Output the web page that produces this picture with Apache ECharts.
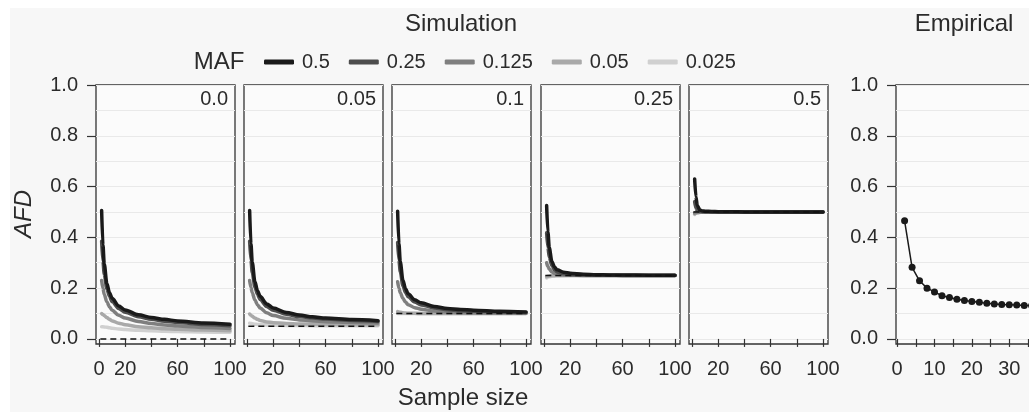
<!DOCTYPE html>
<html>
<head>
<meta charset="utf-8">
<script src="https://cdn.jsdelivr.net/npm/echarts@6/dist/echarts.min.js"></script>
<style>
  html, body { margin: 0; padding: 0; background: #fff; }
  #main { width: 1029px; height: 412px; }
</style>
</head>
<body>
<div id="main"></div>
<script>
// sample sizes used for the simulation curves
let sampleSizes = [2, 3, 4, 6, 8, 10, 15, 20, 30, 40, 50, 60, 80, 100];

// MAF levels (legend) and true differences (panels)
let mafLevels = ['0.5', '0.25', '0.125', '0.05', '0.025'];
let trueDiffs = [0, 0.05, 0.1, 0.25, 0.5];
let panelLabels = ['0.0', '0.05', '0.1', '0.25', '0.5'];

// panel 0.0
let p0_m05   = [0.506, 0.37, 0.295, 0.218, 0.182, 0.16, 0.13, 0.114, 0.095, 0.084, 0.077, 0.071, 0.063, 0.058];
let p0_m025  = [0.385, 0.305, 0.255, 0.197, 0.167, 0.147, 0.12, 0.105, 0.087, 0.077, 0.07, 0.065, 0.057, 0.052];
let p0_m0125 = [0.23, 0.2, 0.176, 0.146, 0.127, 0.113, 0.093, 0.082, 0.069, 0.061, 0.055, 0.051, 0.045, 0.041];
let p0_m005  = [0.1, 0.096, 0.092, 0.084, 0.077, 0.071, 0.062, 0.056, 0.048, 0.044, 0.04, 0.038, 0.035, 0.032];
let p0_m0025 = [0.048, 0.048, 0.047, 0.046, 0.044, 0.042, 0.039, 0.037, 0.034, 0.032, 0.03, 0.029, 0.027, 0.026];

// panel 0.05
let p1_m05   = [0.506, 0.375, 0.302, 0.226, 0.19, 0.168, 0.138, 0.122, 0.104, 0.094, 0.087, 0.082, 0.076, 0.072];
let p1_m025  = [0.385, 0.31, 0.262, 0.205, 0.175, 0.155, 0.128, 0.113, 0.097, 0.088, 0.082, 0.078, 0.073, 0.069];
let p1_m0125 = [0.23, 0.203, 0.182, 0.153, 0.135, 0.122, 0.103, 0.092, 0.081, 0.075, 0.071, 0.068, 0.065, 0.063];
let p1_m005  = [0.098, 0.093, 0.089, 0.082, 0.077, 0.073, 0.067, 0.064, 0.061, 0.059, 0.058, 0.057, 0.056, 0.056];
let p1_m0025 = [0.062, 0.061, 0.06, 0.058, 0.057, 0.056, 0.055, 0.054, 0.053, 0.053, 0.052, 0.052, 0.052, 0.052];

// panel 0.1
let p2_m05   = [0.503, 0.375, 0.305, 0.232, 0.198, 0.178, 0.154, 0.142, 0.128, 0.12, 0.116, 0.113, 0.109, 0.106];
let p2_m025  = [0.38, 0.31, 0.265, 0.21, 0.183, 0.166, 0.145, 0.134, 0.122, 0.115, 0.111, 0.109, 0.106, 0.104];
let p2_m0125 = [0.225, 0.2, 0.182, 0.16, 0.145, 0.135, 0.123, 0.117, 0.11, 0.106, 0.104, 0.103, 0.102, 0.101];
let p2_m005  = [0.108, 0.106, 0.105, 0.103, 0.102, 0.101, 0.101, 0.1, 0.1, 0.1, 0.1, 0.1, 0.1, 0.1];
let p2_m0025 = [0.1, 0.1, 0.1, 0.1, 0.1, 0.1, 0.1, 0.1, 0.1, 0.1, 0.1, 0.1, 0.1, 0.1];

// panel 0.25
let p3_m05   = [0.525, 0.42, 0.36, 0.305, 0.283, 0.272, 0.263, 0.259, 0.255, 0.253, 0.252, 0.252, 0.251, 0.251];
let p3_m025  = [0.418, 0.36, 0.322, 0.288, 0.272, 0.264, 0.257, 0.254, 0.252, 0.251, 0.251, 0.25, 0.25, 0.25];
let p3_m0125 = [0.3, 0.285, 0.275, 0.264, 0.258, 0.255, 0.252, 0.251, 0.25, 0.25, 0.25, 0.25, 0.25, 0.25];
let p3_m005  = [0.245, 0.247, 0.248, 0.249, 0.249, 0.25, 0.25, 0.25, 0.25, 0.25, 0.25, 0.25, 0.25, 0.25];
let p3_m0025 = [0.24, 0.243, 0.245, 0.247, 0.248, 0.249, 0.249, 0.25, 0.25, 0.25, 0.25, 0.25, 0.25, 0.25];

// panel 0.5
let p4_m05   = [0.63, 0.56, 0.525, 0.508, 0.504, 0.503, 0.502, 0.501, 0.501, 0.5, 0.5, 0.5, 0.5, 0.5];
let p4_m025  = [0.54, 0.515, 0.506, 0.502, 0.501, 0.5, 0.5, 0.5, 0.5, 0.5, 0.5, 0.5, 0.5, 0.5];
let p4_m0125 = [0.496, 0.498, 0.499, 0.5, 0.5, 0.5, 0.5, 0.5, 0.5, 0.5, 0.5, 0.5, 0.5, 0.5];
let p4_m005  = [0.492, 0.495, 0.497, 0.499, 0.5, 0.5, 0.5, 0.5, 0.5, 0.5, 0.5, 0.5, 0.5, 0.5];
let p4_m0025 = [0.49, 0.494, 0.496, 0.498, 0.499, 0.5, 0.5, 0.5, 0.5, 0.5, 0.5, 0.5, 0.5, 0.5];

// empirical panel
let empSizes  = [2, 4, 6, 8, 10, 12, 14, 16, 18, 20, 22, 24, 26, 28, 30, 32, 34, 36, 38, 40];
let empValues = [0.465, 0.282, 0.229, 0.2, 0.185, 0.17, 0.163, 0.156, 0.151, 0.147, 0.144, 0.14, 0.138, 0.136, 0.135, 0.134, 0.132, 0.131, 0.13, 0.129];

// tick labels
let yTicks = [0, 0.2, 0.4, 0.6, 0.8, 1.0];
let yGrid = [0, 0.1, 0.2, 0.3, 0.4, 0.5, 0.6, 0.7, 0.8, 0.9, 1.0];
let simXTicks = [0, 20, 40, 60, 80, 100];
let simXLabelsFirst = [0, 20, 60, 100];
let simXLabels = [20, 60, 100];
let empXTicks = [0, 5, 10, 15, 20, 25, 30, 35, 40, 45, 50];
let empXLabels = [0, 10, 20, 30, 40, 50];

let panelData = [
  [p0_m05, p0_m025, p0_m0125, p0_m005, p0_m0025],
  [p1_m05, p1_m025, p1_m0125, p1_m005, p1_m0025],
  [p2_m05, p2_m025, p2_m0125, p2_m005, p2_m0025],
  [p3_m05, p3_m025, p3_m0125, p3_m005, p3_m0025],
  [p4_m05, p4_m025, p4_m0125, p4_m005, p4_m0025]
];

let mafColors = ['#1a1a1a', '#4d4d4d', '#7f7f7f', '#a9a9a9', '#d0d0d0'];
let panelLeft = [96, 244, 392, 541, 689];
let panelWidth = 139;
let panelTop = 85;
let panelHeight = 259;
let textColor = '#2b2b2b';
let fontFamily = '"Liberation Sans", Arial, sans-serif';

let grids = [];
let xAxes = [];
let yAxes = [];
let series = [];
let graphics = [];

function gridBox(left, width) {
  return {
    left: left,
    top: panelTop,
    width: width,
    height: panelHeight,
    outerBoundsMode: 'none',
    containLabel: false,
    show: true,
    backgroundColor: '#fbfbfb',
    borderColor: '#333',
    borderWidth: 1.3
  };
}

function xAxisFor(idx, min, max, ticks, labels) {
  return {
    type: 'value',
    gridIndex: idx,
    position: 'bottom',
    min: min,
    max: max,
    axisLine: { show: false },
    splitLine: { show: false },
    axisTick: {
      show: true,
      length: 8,
      customValues: ticks,
      lineStyle: { color: '#333', width: 1.2 }
    },
    axisLabel: {
      show: true,
      customValues: labels,
      margin: 15,
      color: textColor,
      fontSize: 20,
      fontFamily: fontFamily
    }
  };
}

// y axis that only draws the light gridlines
function yGridAxis(idx) {
  return {
    type: 'value',
    gridIndex: idx,
    position: 'left',
    min: -0.02,
    max: 1,
    axisLine: { show: false },
    axisLabel: { show: false },
    axisTick: { show: false, customValues: yGrid },
    splitLine: { show: true, lineStyle: { color: '#e9e9e9', width: 1.2 } }
  };
}

// y axis with ticks and labels (first and empirical panel)
function yLabelAxis(idx) {
  return {
    type: 'value',
    gridIndex: idx,
    position: 'left',
    offset: 0,
    min: -0.02,
    max: 1,
    axisLine: { show: false },
    splitLine: { show: false },
    axisTick: {
      show: true,
      length: 9,
      customValues: yTicks,
      lineStyle: { color: '#333', width: 1.2 }
    },
    axisLabel: {
      show: true,
      customValues: yTicks,
      margin: 18,
      color: textColor,
      fontSize: 20,
      fontFamily: fontFamily,
      formatter: function (v) { return v.toFixed(1); }
    }
  };
}

for (let p = 0; p < 5; p++) {
  grids.push(gridBox(panelLeft[p], panelWidth));
  xAxes.push(xAxisFor(p, -2.3, 103.8, simXTicks, p === 0 ? simXLabelsFirst : simXLabels));
  yAxes.push(yGridAxis(p));

  // lightest first so the black curve sits on top
  for (let m = mafLevels.length - 1; m >= 0; m--) {
    let vals = panelData[p][m];
    series.push({
      name: mafLevels[m],
      type: 'line',
      xAxisIndex: p,
      yAxisIndex: p,
      data: sampleSizes.map((n, i) => [n, vals[i]]),
      showSymbol: false,
      smooth: 0.3,
      smoothMonotone: 'x',
      color: mafColors[m],
      lineStyle: { width: 3.5, color: mafColors[m], cap: 'round' },
      z: 2
    });
  }
  series.push({
    name: 'true',
    type: 'line',
    xAxisIndex: p,
    yAxisIndex: p,
    data: [[1, trueDiffs[p]], [100, trueDiffs[p]]],
    showSymbol: false,
    lineStyle: { width: 1.5, color: '#111', type: [6, 4] },
    z: 3
  });

  graphics.push({
    type: 'text',
    x: panelLeft[p] + panelWidth - 7,
    y: 99,
    style: {
      text: panelLabels[p],
      fill: textColor,
      font: '20px ' + fontFamily,
      align: 'right',
      verticalAlign: 'middle'
    }
  });
}

// empirical panel
grids.push(gridBox(896, 188));
xAxes.push(xAxisFor(5, -0.3, 50, empXTicks, empXLabels));
yAxes.push(yGridAxis(5));
yAxes.push(yLabelAxis(0));
yAxes.push(yLabelAxis(5));

series.push({
  name: 'empirical',
  type: 'line',
  xAxisIndex: 5,
  yAxisIndex: 5,
  data: empSizes.map((n, i) => [n, empValues[i]]),
  symbol: 'circle',
  symbolSize: 7,
  color: '#1a1a1a',
  lineStyle: { width: 1.5, color: '#1a1a1a' },
  z: 3
});

// white frame on top / left edge of the picture
graphics.push({ type: 'rect', shape: { x: 0, y: 0, width: 1029, height: 8 }, style: { fill: '#fff' }, z: -10 });
graphics.push({ type: 'rect', shape: { x: 0, y: 0, width: 10, height: 412 }, style: { fill: '#fff' }, z: -10 });

let titles = [
  { text: 'Simulation', x: 461, y: 24 },
  { text: 'Empirical', x: 964, y: 24 },
  { text: 'MAF', x: 219, y: 62 },
  { text: 'Sample size', x: 463, y: 398 }
];
titles.forEach(t => {
  graphics.push({
    type: 'text',
    x: t.x,
    y: t.y,
    style: {
      text: t.text,
      fill: textColor,
      font: '24px ' + fontFamily,
      align: 'center',
      verticalAlign: 'middle'
    }
  });
});
graphics.push({
  type: 'text',
  x: 24,
  y: 214,
  rotation: Math.PI / 2,
  style: {
    text: 'AFD',
    fill: textColor,
    font: 'italic 24px ' + fontFamily,
    align: 'center',
    verticalAlign: 'middle'
  }
});

let option = {
  animation: false,
  backgroundColor: '#f7f7f7',
  legend: {
    data: mafLevels,
    left: 259,
    top: 47,
    icon: 'roundRect',
    itemWidth: 30,
    itemHeight: 5,
    itemGap: 19,
    selectedMode: false,
    textStyle: {
      color: textColor,
      fontSize: 20,
      fontFamily: fontFamily,
      padding: [0, 0, 0, 3]
    }
  },
  grid: grids,
  xAxis: xAxes,
  yAxis: yAxes,
  series: series,
  graphic: graphics
};

let chart = echarts.init(document.getElementById('main'), null, { renderer: 'canvas' });
chart.setOption(option);
</script>
</body>
</html>
